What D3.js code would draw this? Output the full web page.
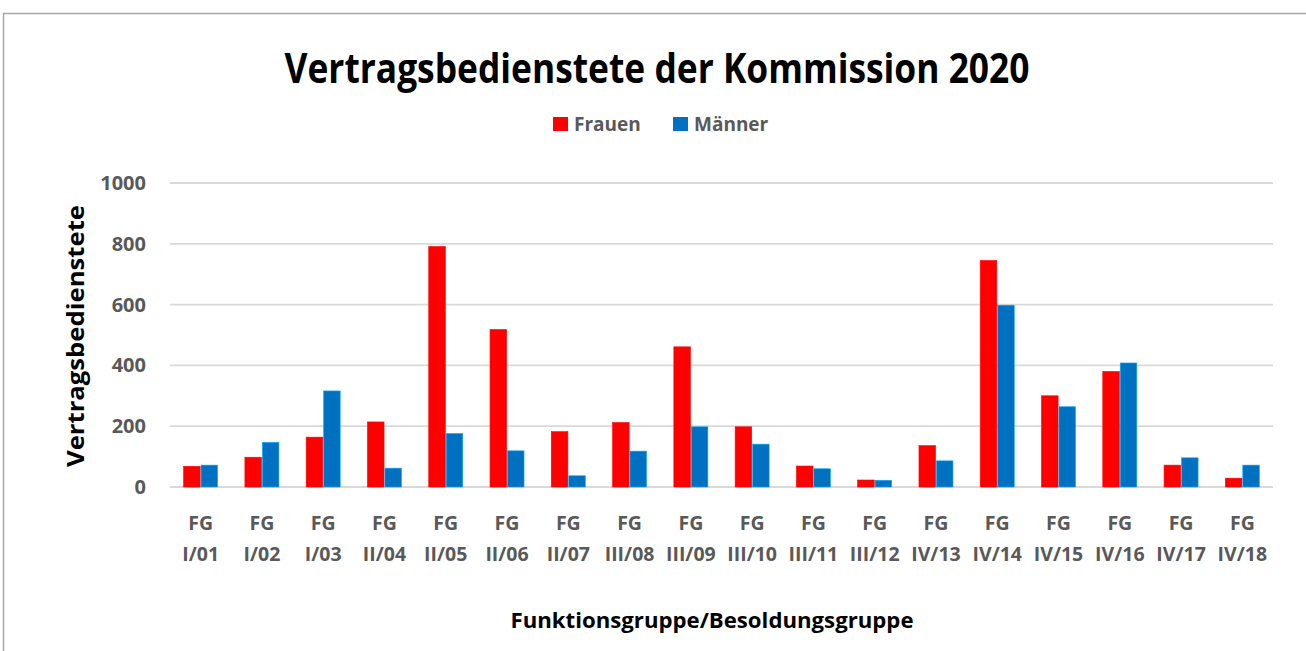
<!DOCTYPE html>
<html>
<head>
<meta charset="utf-8">
<script src="https://cdn.jsdelivr.net/npm/d3@7"></script>
<style>
  body { margin: 0; background: #fff; }
  text { font-family: "Open Sans", sans-serif; font-weight: bold; }
</style>
</head>
<body>
<div id="vis"></div>
<script>
var categories = ['FG I/01', 'FG I/02', 'FG I/03', 'FG II/04', 'FG II/05', 'FG II/06',
  'FG II/07', 'FG III/08', 'FG III/09', 'FG III/10', 'FG III/11', 'FG III/12',
  'FG IV/13', 'FG IV/14', 'FG IV/15', 'FG IV/16', 'FG IV/17', 'FG IV/18'];
var frauen = [68, 98, 164, 214, 791, 518, 182, 212, 461, 198, 69, 23, 136, 745, 300, 380, 72, 29];
var maenner = [72, 147, 316, 62, 176, 119, 37, 118, 198, 141, 60, 22, 86, 598, 264, 408, 96, 72];
var seriesNames = ['Frauen', 'Männer'];
var yTicks = [0, 200, 400, 600, 800, 1000];

var width = 1306;
var height = 651;
var margin = { top: 183, right: 33, bottom: 164, left: 170 };
var colors = ['#ff0000', '#0070c0'];

var svg = d3.select('#vis').append('svg')
  .attr('width', width)
  .attr('height', height);

// chart frame
svg.append('rect')
  .attr('x', 3.5).attr('y', 13.5)
  .attr('width', 1330).attr('height', 700)
  .attr('fill', 'none')
  .attr('stroke', '#a6a6a6')
  .attr('stroke-width', 1.5);

var x = d3.scaleBand()
  .domain(categories)
  .range([margin.left, width - margin.right]);

var x1 = d3.scaleBand()
  .domain(seriesNames)
  .range([0, 34])
  .paddingInner(0.05);

var y = d3.scaleLinear()
  .domain([0, 1000])
  .range([height - margin.bottom, margin.top]);

// gridlines
svg.append('g').selectAll('line')
  .data(yTicks)
  .enter().append('line')
  .attr('x1', margin.left)
  .attr('x2', width - margin.right)
  .attr('y1', function (d) { return y(d); })
  .attr('y2', function (d) { return y(d); })
  .attr('stroke', '#d9d9d9')
  .attr('stroke-width', 1.8);

// y axis labels
var yAxis = d3.axisLeft(y).tickValues(yTicks).tickFormat(d3.format('d')).tickSize(0).tickPadding(24);
var yG = svg.append('g')
  .attr('transform', 'translate(' + margin.left + ',0)')
  .call(yAxis);
yG.select('.domain').remove();
yG.selectAll('text')
  .attr('fill', '#595959')
  .style('font-size', '20px')
  .style('font-family', '"Open Sans", sans-serif')
  .style('font-weight', 'bold');

// bars
var rows = categories.map(function (c, i) {
  return { cat: c, values: [frauen[i], maenner[i]] };
});

var groups = svg.append('g').selectAll('g')
  .data(rows)
  .enter().append('g')
  .attr('transform', function (d) {
    return 'translate(' + (x(d.cat) + x.bandwidth() / 2 - 17) + ',0)';
  });

groups.selectAll('rect')
  .data(function (d) { return d.values.map(function (v, i) { return { name: seriesNames[i], value: v, i: i }; }); })
  .enter().append('rect')
  .attr('x', function (d) { return x1(d.name); })
  .attr('width', x1.bandwidth())
  .attr('y', function (d) { return y(d.value); })
  .attr('height', function (d) { return y(0) - y(d.value); })
  .attr('fill', function (d) { return colors[d.i]; })
  .attr('stroke', function (d) { return d3.color(colors[d.i]).brighter(1.2); })
  .attr('stroke-width', 0.6);

// x labels, two lines each
var xLabels = svg.append('g').selectAll('text')
  .data(categories)
  .enter().append('text')
  .attr('text-anchor', 'middle')
  .attr('fill', '#595959')
  .style('font-size', '19.5px');

xLabels.append('tspan')
  .attr('x', function (d) { return x(d) + x.bandwidth() / 2; })
  .attr('y', 530)
  .text(function (d) { return d.split(' ')[0]; });
xLabels.append('tspan')
  .attr('x', function (d) { return x(d) + x.bandwidth() / 2; })
  .attr('y', 561)
  .text(function (d) { return d.split(' ')[1]; });

// title
svg.append('text')
  .attr('x', 657)
  .attr('y', 83)
  .attr('text-anchor', 'middle')
  .attr('fill', '#000')
  .attr('textLength', 745)
  .attr('lengthAdjust', 'spacingAndGlyphs')
  .style('font-size', '42px')
  .text('Vertragsbedienstete der Kommission 2020');

// legend
var legend = svg.append('g').selectAll('g')
  .data(seriesNames)
  .enter().append('g')
  .attr('transform', function (d, i) { return 'translate(' + (553 + i * 120) + ',117)'; });

legend.append('rect')
  .attr('width', 15).attr('height', 14)
  .attr('fill', function (d, i) { return colors[i]; });

legend.append('text')
  .attr('x', 21).attr('y', 14)
  .attr('fill', '#595959')
  .style('font-size', '19px')
  .text(function (d) { return d; });

// axis titles
svg.append('text')
  .attr('transform', 'translate(84,336) rotate(-90)')
  .attr('text-anchor', 'middle')
  .attr('fill', '#000')
  .attr('textLength', 262)
  .attr('lengthAdjust', 'spacingAndGlyphs')
  .style('font-size', '23px')
  .text('Vertragsbedienstete');

svg.append('text')
  .attr('x', 712)
  .attr('y', 628)
  .attr('text-anchor', 'middle')
  .attr('fill', '#000')
  .attr('textLength', 403)
  .attr('lengthAdjust', 'spacingAndGlyphs')
  .style('font-size', '21.5px')
  .text('Funktionsgruppe/Besoldungsgruppe');
</script>
</body>
</html>
